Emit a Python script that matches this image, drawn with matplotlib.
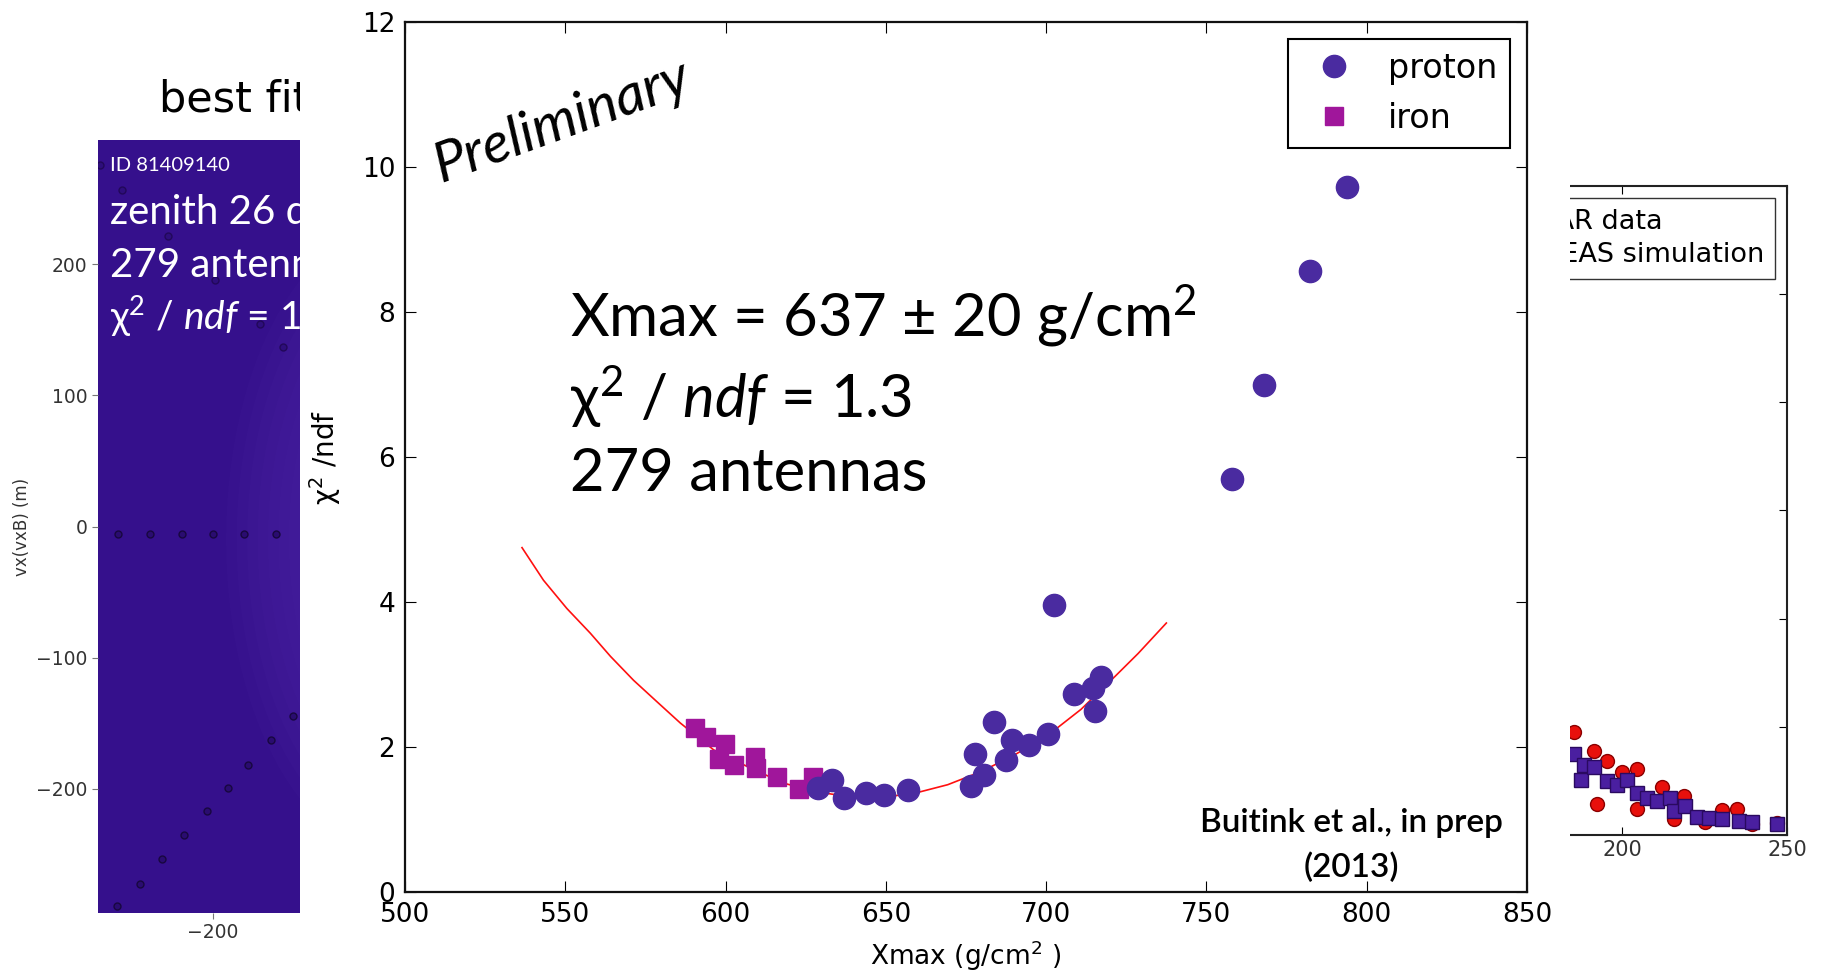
import matplotlib.pyplot as plt
from matplotlib.lines import Line2D
from matplotlib.patches import Rectangle, Ellipse

plt.rcParams['mathtext.fontset'] = 'custom'
plt.rcParams['mathtext.rm'] = 'Lato'
plt.rcParams['mathtext.it'] = 'Lato:italic'
plt.rcParams['mathtext.default'] = 'rm'

# main plot: chi2/ndf against Xmax
proton_x = [628.7, 633.3, 637.0, 643.8, 649.5, 656.8, 676.6, 680.5, 677.8, 687.5, 683.8, 689.4,
            694.6, 700.5, 702.6, 708.6, 714.6, 715.1, 717.2, 757.9, 768.0, 782.4, 794.0]
proton_y = [1.43, 1.54, 1.29, 1.36, 1.34, 1.41, 1.46, 1.61, 1.90, 1.82, 2.35, 2.10,
            2.03, 2.18, 3.96, 2.73, 2.81, 2.50, 2.97, 5.69, 6.99, 8.57, 9.73]
iron_x = [590.6, 593.8, 599.7, 597.9, 602.6, 609.1, 609.4, 616.1, 622.9, 627.4]
iron_y = [2.26, 2.14, 2.04, 1.84, 1.75, 1.86, 1.71, 1.59, 1.42, 1.58]
fit_x = [536.5, 543.2, 550.5, 557.8, 564.1, 571.3, 578.7, 585.9, 596.3, 606.8, 618.2, 628.7,
         639.1, 649.5, 658.8, 669.3, 679.7, 690.1, 700.5, 710.9, 721.4, 728.7, 737.5]
fit_y = [4.75, 4.30, 3.91, 3.57, 3.25, 2.92, 2.62, 2.33, 1.96, 1.73, 1.50, 1.38,
         1.31, 1.31, 1.36, 1.48, 1.66, 1.89, 2.16, 2.52, 2.97, 3.29, 3.71]
x_ticks = [500, 550, 600, 650, 700, 750, 800, 850]
y_ticks = [0, 2, 4, 6, 8, 10, 12]

# left background panel (antenna footprint)
ring_x = [-272.5, -248.0, -224.0, -200.0, -176.0, -151.6]
ring_y = [-6, -6, -6, -6, -6, -6]
diag_x = [-273.5, -255.7, -239.2, -221.9, -204.8, -188.8, -173.1, -156.0, -139.2]
diag_y = [-290.0, -272.5, -253.5, -235.4, -217.5, -199.7, -182.1, -163.1, -145.0]
upper_x = [-286.0, -269.7, -234.1, -198.5, -164.1, -146.3]
upper_y = [276.0, 256.9, 222.1, 187.9, 154.6, 137.0]
left_yticks = [-200, -100, 0, 100, 200]

# right background panel (LOFAR vs CoREAS)
lofar_x = [185.3, 191.4, 195.5, 192.4, 200.0, 204.5, 204.5, 212.1, 215.6, 218.7, 225.2, 230.3,
           234.8, 239.4, 247.0]
lofar_y = [0.95, 0.78, 0.68, 0.29, 0.58, 0.61, 0.24, 0.44, 0.15, 0.36, 0.12, 0.23,
           0.24, 0.10, 0.11]
coreas_x = [185.3, 188.4, 187.4, 191.4, 195.5, 198.5, 201.5, 204.5, 207.6, 210.6, 214.6, 215.6,
            219.2, 222.7, 226.3, 230.3, 235.4, 239.4, 247.0]
coreas_y = [0.75, 0.65, 0.51, 0.63, 0.50, 0.46, 0.51, 0.39, 0.34, 0.31, 0.34, 0.22,
            0.27, 0.17, 0.16, 0.15, 0.13, 0.12, 0.10]

W, H = 1823, 972
fig = plt.figure(figsize=(W / 100, H / 100), dpi=100, facecolor='white')

# ---- left panel
axl = fig.add_axes([98 / W, 1 - 913 / H, 500 / W, 773 / H], zorder=0)
axl.set_facecolor('#35108c')
axl.set_xlim(-287.8, 93.9)
axl.set_ylim(-295, 295)
# soft lighter glow towards the right edge
for k in range(10):
    axl.add_patch(Ellipse((-60, -10), 260 - 16 * k, 480 - 24 * k, color='#6a44c4',
                          alpha=0.045, lw=0))
axl.plot(ring_x, ring_y, 'o', ms=5, mfc='#2a0c70', mec='#180740', mew=1)
axl.plot(diag_x, diag_y, 'o', ms=5, mfc='#2a0c70', mec='#180740', mew=1)
axl.plot(upper_x, upper_y, 'o', ms=5, mfc='#2e0e7c', mec='#22085a', mew=1)
axl.set_yticks(left_yticks)
axl.set_xticks([-200])
for s in axl.spines.values():
    s.set_visible(False)
axl.tick_params(direction='out', length=4, labelsize=13.5, labelcolor='#333333', color='#777777')
axl.set_ylabel('vx(vxB) (m)', fontsize=12, color='#333333')
axl.yaxis.set_label_coords(-0.135, 0.5)
axl.text(-241.0, 316.4, 'best fit', fontsize=31, ha='left', va='baseline', clip_on=False)
axl.text(-278.6, 271.4, 'ID 81409140', fontsize=14.5, color='white', family='Lato', va='baseline')
axl.text(-278.6, 230.9, 'zenith 26 deg', fontsize=29, color='white', family='Lato', va='baseline')
axl.text(-278.6, 190.5, '279 antennas', fontsize=29, color='white', family='Lato', va='baseline')
axl.text(-278.6, 150.0, r'$\chi^2$ / $\mathit{ndf}$ = 1.3', fontsize=28, color='white',
         family='Lato', va='baseline')

# ---- right panel
axr = fig.add_axes([1406 / W, 1 - 835 / H, 381 / W, 649 / H], zorder=0)
axr.set_xlim(134.5, 250)
axr.set_ylim(0, 6)
axr.plot(lofar_x, lofar_y, 'o', ms=10, mfc='#e8100c', mec='#8a0000', label='LOFAR data')
axr.plot(coreas_x, coreas_y, 's', ms=9.5, mfc='#4a1fa0', mec='#2a0a60', label='CoREAS simulation')
axr.set_xticks([200, 250])
axr.set_yticks(range(7))
axr.tick_params(direction='in', top=True, right=True, labelleft=False, labelsize=15,
                labelcolor='#333333', length=6)
for s in axr.spines.values():
    s.set_linewidth(1.5)
    s.set_color('#222222')
lr = axr.legend(loc='upper right', fontsize=19.5, numpoints=1, fancybox=False, framealpha=1,
                edgecolor='#333333', labelspacing=0.25, borderaxespad=0.45)

# white slide area of the main plot covers the two side panels
fig.add_artist(Rectangle((300 / W, 0), 1270 / W, 1, transform=fig.transFigure,
                         facecolor='white', edgecolor='none', zorder=1))

# ---- main plot
ax = fig.add_axes([405 / W, 80 / H, 1122 / W, 870 / H], zorder=2)
ax.plot(fit_x, fit_y, color='#ff1010', lw=1.2, zorder=2)
ax.plot(iron_x, iron_y, 's', ms=12.5, color='#a0169b', mec='#a0169b', zorder=3)
ax.plot(proton_x, proton_y, 'o', ms=16, color='#4a2ba0', mec='#4a2ba0', zorder=4)

ax.set_xlim(500, 850)
ax.set_ylim(0, 12)
ax.set_xticks(x_ticks)
ax.set_yticks(y_ticks)
ax.tick_params(direction='in', top=True, right=True, length=8, width=0.8, labelsize=19, pad=7)
for s in ax.spines.values():
    s.set_linewidth(1.6)
    s.set_color('#111111')

ax.set_xlabel('Xmax (g/cm$^2$ )', fontsize=19, math_fontfamily='dejavusans')
ax.xaxis.set_label_coords(0.5, -0.073)
ax.xaxis.label.set_va('center')
ax.set_ylabel(r'$\chi^2$ /ndf', fontsize=20, math_fontfamily='dejavusans')
ax.yaxis.set_label_coords(-0.0713, 0.5)
ax.yaxis.label.set_va('center')

handles = [Line2D([], [], ls='none', marker='o', ms=16, color='#4a2ba0'),
           Line2D([], [], ls='none', marker='s', ms=12.5, color='#a0169b')]
leg = ax.legend(handles, ['proton', 'iron'], loc='upper right', fontsize=24, numpoints=1,
                fancybox=False, framealpha=1, edgecolor='black', handletextpad=0.6)
leg.get_frame().set_linewidth(1.5)

ax.text(511.3, 9.79, 'Preliminary', rotation=20, rotation_mode='anchor', ha='left',
        va='baseline', fontsize=41, style='italic', family='Lato')
ax.text(551.6, 7.66, 'Xmax = 637 ± 20 g/cm$^2$', fontsize=43, family='Lato', va='baseline')
ax.text(551.6, 6.54, r'$\chi^2$ / $\mathit{ndf}$ = 1.3', fontsize=43, family='Lato', va='baseline')
ax.text(551.6, 5.53, '279 antennas', fontsize=43, family='Lato', va='baseline')
ax.text(795.3, 0.832, 'Buitink et al., in prep', fontsize=24, family='Lato', weight='semibold',
        ha='center', va='baseline')
ax.text(795.3, 0.211, '(2013)', fontsize=24, family='Lato', weight='semibold',
        ha='center', va='baseline')

plt.savefig('out.png', dpi=100, facecolor='white')
